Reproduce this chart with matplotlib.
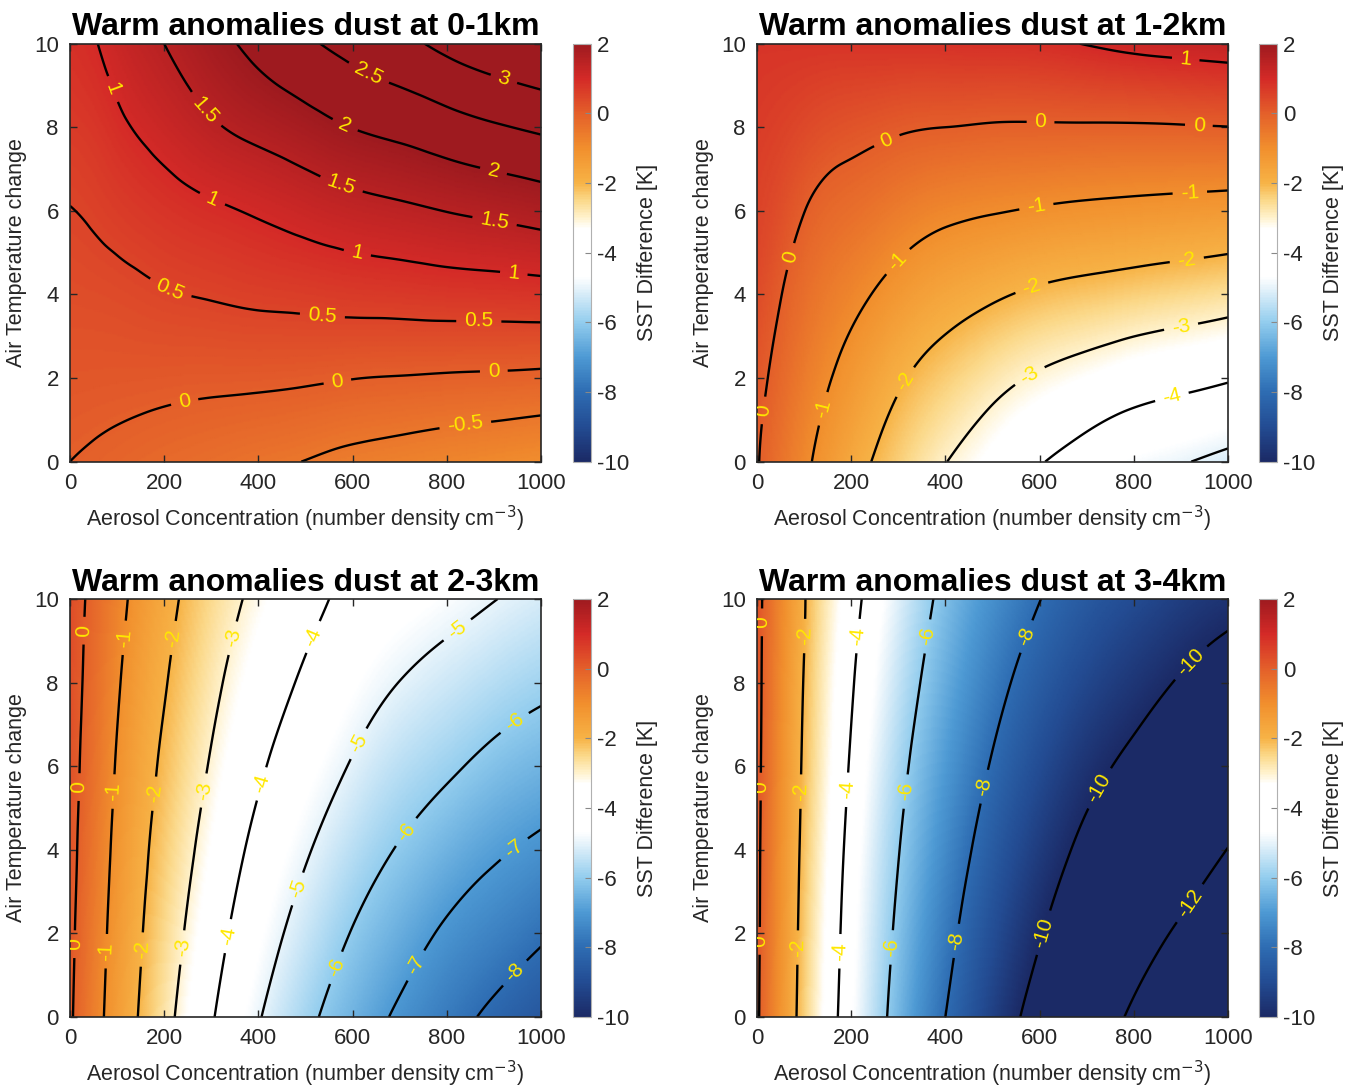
import numpy as np
import matplotlib
matplotlib.use("Agg")
import matplotlib.pyplot as plt
import matplotlib.tri as mtri
from matplotlib.colors import LinearSegmentedColormap

plt.rcParams['font.family'] = ['Liberation Sans', 'DejaVu Sans']
plt.rcParams['axes.unicode_minus'] = False
plt.rcParams['contour.negative_linestyle'] = 'solid'

# grid: aerosol concentration (cm-3) x air temperature change
aerosol = [0, 50, 100, 200, 300, 400, 500, 600, 700, 800, 900, 1000]
air_temp = [0, 2, 4, 6, 8, 10]

# SST difference [K], one row per air_temp value
sst_0_1km = [
    [0.00, -0.05, -0.11, -0.22, -0.31, -0.42, -0.51, -0.63, -0.71, -0.80, -0.89, -0.98],
    [0.16, 0.15, 0.14, 0.12, 0.10, 0.09, 0.06, 0.01, -0.02, -0.05, -0.07, -0.10],
    [0.33, 0.35, 0.38, 0.47, 0.53, 0.59, 0.63, 0.68, 0.71, 0.75, 0.77, 0.80],
    [0.49, 0.55, 0.64, 0.80, 0.93, 1.05, 1.19, 1.32, 1.41, 1.51, 1.60, 1.70],
    [0.68, 0.76, 0.91, 1.18, 1.44, 1.64, 1.82, 2.01, 2.14, 2.30, 2.45, 2.58],
    [0.87, 0.97, 1.18, 1.50, 1.83, 2.13, 2.42, 2.66, 2.87, 3.13, 3.35, 3.53],
]
sst_1_2km = [
    [0.04, -0.41, -0.86, -1.69, -2.37, -2.98, -3.45, -3.95, -4.35, -4.75, -4.95, -5.20],
    [0.15, -0.20, -0.60, -1.26, -1.90, -2.36, -2.76, -3.09, -3.34, -3.59, -3.76, -3.93],
    [0.36, 0.02, -0.32, -0.81, -1.27, -1.64, -1.90, -2.12, -2.26, -2.39, -2.51, -2.64],
    [0.52, 0.30, 0.01, -0.32, -0.61, -0.84, -0.96, -1.06, -1.14, -1.20, -1.26, -1.32],
    [0.66, 0.55, 0.41, 0.21, 0.07, 0.00, -0.05, -0.06, -0.06, -0.06, -0.04, -0.01],
    [0.80, 0.80, 0.80, 0.80, 0.82, 0.84, 0.87, 0.90, 1.02, 1.15, 1.23, 1.30],
]
sst_2_3km = [
    [0.10, -0.67, -1.40, -2.72, -3.92, -4.94, -5.78, -6.50, -7.14, -7.67, -8.18, -8.65],
    [0.15, -0.58, -1.30, -2.53, -3.63, -4.58, -5.34, -6.04, -6.60, -7.12, -7.50, -7.88],
    [0.20, -0.48, -1.19, -2.34, -3.35, -4.23, -4.92, -5.54, -6.06, -6.50, -6.88, -7.17],
    [0.25, -0.38, -1.06, -2.14, -3.07, -3.88, -4.51, -5.06, -5.53, -5.87, -6.22, -6.48],
    [0.30, -0.28, -0.91, -1.94, -2.80, -3.54, -4.12, -4.62, -5.01, -5.30, -5.58, -5.82],
    [0.35, -0.19, -0.75, -1.74, -2.54, -3.20, -3.74, -4.23, -4.50, -4.73, -4.98, -5.20],
]
sst_3_4km = [
    [0.12, -1.15, -2.39, -4.58, -6.41, -8.00, -9.30, -10.42, -11.28, -12.16, -12.86, -13.50],
    [0.15, -1.10, -2.31, -4.45, -6.19, -7.66, -8.90, -9.93, -10.76, -11.52, -12.14, -12.74],
    [0.17, -1.05, -2.22, -4.30, -5.96, -7.31, -8.50, -9.45, -10.24, -10.87, -11.45, -12.02],
    [0.20, -0.99, -2.13, -4.10, -5.70, -6.97, -8.08, -8.97, -9.70, -10.23, -10.77, -11.25],
    [0.22, -0.92, -2.04, -3.90, -5.40, -6.62, -7.65, -8.48, -9.13, -9.62, -10.08, -10.47],
    [0.24, -0.85, -1.94, -3.67, -5.08, -6.28, -7.20, -7.98, -8.57, -9.00, -9.40, -9.71],
]

titles = ['Warm anomalies dust at 0-1km', 'Warm anomalies dust at 1-2km',
          'Warm anomalies dust at 2-3km', 'Warm anomalies dust at 3-4km']
fields = [sst_0_1km, sst_1_2km, sst_2_3km, sst_3_4km]
levels = [
    [-0.5, 0, 0.5, 1, 1.5, 2, 2.5, 3],
    [-5, -4, -3, -2, -1, 0, 1],
    [-8, -7, -6, -5, -4, -3, -2, -1, 0],
    [-12, -10, -8, -6, -4, -2, 0],
]

# where the inline labels sit in each panel
label_spots = [
    [(88, 8.9), (286, 8.4), (628, 9.15), (919, 9.07), (582, 8.0), (896, 6.8),
     (572, 6.5), (900, 5.66), (295, 6.1), (609, 4.93), (942, 4.47), (208, 4.0),
     (536, 3.5), (868, 3.33), (245, 1.35), (568, 1.9), (900, 2.13), (840, 0.82)],
    [(910, 9.6), (602, 8.08), (938, 8.0), (276, 7.67), (74, 4.9), (18, 1.22),
     (593, 6.11), (919, 6.44), (299, 4.79), (142, 1.26), (588, 4.0), (910, 5.04),
     (326, 1.83), (584, 1.96), (901, 3.19), (882, 1.5)],
    [(32, 9.24), (18, 5.5), (14, 1.74), (115, 9.07), (97, 5.39), (83, 1.57),
     (217, 9.07), (180, 5.34), (157, 1.61), (342, 9.07), (277, 5.43), (240, 1.66),
     (512, 9.11), (402, 5.59), (332, 1.94), (813, 9.4), (600, 6.61), (476, 3.09),
     (937, 7.15), (702, 4.52), (559, 1.2), (937, 4.11), (725, 1.29), (942, 1.08)],
    [(14, 9.44), (11, 5.51), (9, 1.82), (108, 9.11), (97, 5.39), (87, 1.66),
     (216, 9.11), (198, 5.43), (179, 1.57), (358, 9.11), (317, 5.39), (290, 1.66),
     (570, 9.11), (482, 5.51), (423, 1.82), (915, 8.54), (721, 5.51), (607, 2.02),
     (919, 2.72)],
]

# matlab-like red/white/blue map, white band around -4
cmap = LinearSegmentedColormap.from_list('sst', [
    (0.000, '#1b2a66'), (0.083, '#234c93'), (0.167, '#2e6db3'), (0.250, '#4e9ad4'),
    (0.333, '#93cdee'), (0.417, '#e8f4fb'), (0.442, '#ffffff'), (0.558, '#ffffff'),
    (0.583, '#fff3cf'), (0.625, '#fbd98a'), (0.667, '#f7b346'), (0.750, '#f18f2d'),
    (0.833, '#e4602a'), (0.917, '#d42a27'), (1.000, '#9e1a1f')])

ax_pos = [(0.0520, 0.5757), (0.5628, 0.5757), (0.0520, 0.0653), (0.5628, 0.0653)]
cb_left = [0.4260, 0.9361]
W, H = 0.3502, 0.3842

fig = plt.figure(figsize=(13.45, 10.88), dpi=100)
txt = '#262626'

# triangulate the read grid with one consistent diagonal per cell
nx, ny = len(aerosol), len(air_temp)
X, Y = np.meshgrid(aerosol, air_temp)
tris = []
for j in range(ny - 1):
    for i in range(nx - 1):
        k = j * nx + i
        tris.append([k, k + 1, k + nx + 1])
        tris.append([k, k + nx + 1, k + nx])
tri = mtri.Triangulation(X.ravel() / 100.0, Y.ravel() / 2.0, triangles=tris)
xf = np.linspace(0, 1000, 251)
yf = np.linspace(0, 10, 251)
XF, YF = np.meshgrid(xf, yf)

for i in range(4):
    ax = fig.add_axes([ax_pos[i][0], ax_pos[i][1], W, H])
    interp = mtri.CubicTriInterpolator(tri, np.array(fields[i]).ravel(), kind='min_E')
    ZF = np.ma.filled(interp(XF / 100.0, YF / 2.0), np.nan)

    mesh = ax.pcolormesh(xf, yf, ZF, cmap=cmap, vmin=-10, vmax=2, shading='gouraud')
    cs = ax.contour(xf, yf, ZF, levels=levels[i], colors='k', linewidths=1.7)
    ax.clabel(cs, manual=label_spots[i], inline=True, inline_spacing=8, fmt='%g',
              colors='#ffe800', fontsize=15)

    ax.set_xlim(0, 1000)
    ax.set_ylim(0, 10)
    ax.set_xticks([0, 200, 400, 600, 800, 1000])
    ax.set_yticks([0, 2, 4, 6, 8, 10])
    ax.tick_params(direction='in', top=True, right=True, length=5, width=1,
                   color=txt, labelcolor=txt, labelsize=16, pad=8)
    for s in ax.spines.values():
        s.set_color(txt)
        s.set_linewidth(1.2)
    ax.set_title(titles[i], fontsize=23, fontweight='bold', pad=6)
    ax.set_xlabel('Aerosol Concentration (number density cm$^{-3}$)', fontsize=15.5,
                  color=txt, labelpad=7)
    ax.set_ylabel('Air Temperature change', fontsize=15.5, color=txt, labelpad=5)

    cax = fig.add_axes([cb_left[i % 2], ax_pos[i][1], 0.0134, H])
    cb = fig.colorbar(mesh, cax=cax, ticks=[-10, -8, -6, -4, -2, 0, 2])
    cb.outline.set_edgecolor('#b0b0b0')
    cb.ax.tick_params(direction='in', length=4, color='#888888', labelcolor=txt,
                      labelsize=16, pad=4)
    cb.set_label('SST Difference [K]', fontsize=15.5, color=txt, labelpad=6)

fig.savefig('out.png', dpi=100)
